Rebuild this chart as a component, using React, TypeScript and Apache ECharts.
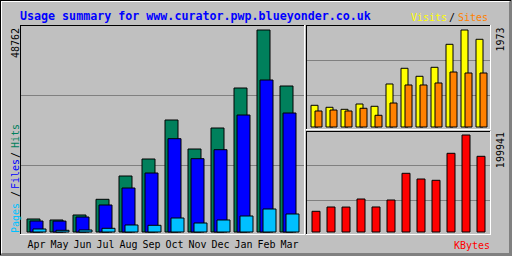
import React, { useEffect, useRef } from "react";
import * as echarts from "echarts";

const months = ["Apr", "May", "Jun", "Jul", "Aug", "Sep", "Oct", "Nov", "Dec", "Jan", "Feb", "Mar"];
const hits = [3363, 3123, 4324, 8095, 13691, 17775, 27143, 20177, 25221, 34829, 48762, 35309];
const files = [2882, 2860, 3843, 6726, 10809, 14412, 22651, 17847, 20009, 28344, 36751, 28824];
const pages = [961, 649, 721, 1129, 1922, 1850, 3603, 2402, 3123, 4083, 5765, 4564];
const visits = [457, 417, 376, 483, 437, 886, 1202, 1041, 1222, 1685, 1973, 1786];
const sites = [342, 362, 342, 397, 256, 503, 866, 866, 906, 1127, 1107, 1107];
const kbytes = [44273, 53045, 52900, 69367, 53100, 67327, 121800, 110171, 107519, 162606, 199941, 156484];

const titleText = "Usage summary for www.curator.pwp.blueyonder.co.uk";
const maxHitsLabel = "48762";
const maxVisitsLabel = "1973";
const maxKBytesLabel = "199941";

const BG = "#C0C0C0";
const DARK = "#808080";
const C_HITS = "#00805C";
const C_FILES = "#0000FF";
const C_PAGES = "#00C0FF";
const C_VISITS = "#FFFF00";
const C_SITES = "#FF8000";
const C_KBYTES = "#FF0000";
const MONO = '"DejaVu Sans Mono", monospace';

function hline(y: number, x1: number, x2: number, color: string, z = 0) {
  return { type: "line", z, silent: true, shape: { x1, y1: y + 0.5, x2: x2 + 1, y2: y + 0.5 }, style: { stroke: color, lineWidth: 1 } };
}
function vline(x: number, y1: number, y2: number, color: string, z = 0) {
  return { type: "line", z, silent: true, shape: { x1: x + 0.5, y1, x2: x + 0.5, y2: y2 + 1 }, style: { stroke: color, lineWidth: 1 } };
}
function frame(x1: number, y1: number, x2: number, y2: number) {
  return [hline(y1, x1, x2, "#000"), vline(x1, y1, y2, "#000"), hline(y2, x1, x2, "#fff"), vline(x2, y1, y2, "#fff")];
}
function txt(text: string, x: number, y: number, fill: string, opts: any = {}) {
  return {
    type: "text",
    z: 10,
    silent: true,
    x,
    y,
    rotation: opts.rotation || 0,
    style: {
      text,
      fill,
      font: opts.font || `10px ${MONO}`,
      align: opts.align || "left",
      verticalAlign: "middle",
    },
  };
}

export default function App() {
  const ref = useRef<HTMLDivElement>(null);
  useEffect(() => {
    if (!ref.current) return;
    const chart = echarts.init(ref.current, null, { renderer: "svg" });
    const up = Math.PI / 2;
    const graphics: any[] = [
      // outer border
      hline(0, 0, 511, "#000"),
      vline(0, 0, 255, "#000"),
      hline(1, 1, 508, "#fff"),
      vline(1, 1, 252, "#fff"),
      hline(253, 2, 511, DARK),
      hline(254, 1, 511, DARK),
      hline(255, 0, 511, DARK),
      vline(509, 2, 255, DARK),
      vline(510, 1, 255, DARK),
      vline(511, 0, 255, DARK),
      // frames
      ...frame(20, 25, 304, 234),
      ...frame(306, 25, 490, 129),
      ...frame(306, 131, 490, 234),
      // grid lines
      hline(95, 21, 303, DARK),
      hline(165, 21, 303, DARK),
      hline(60, 307, 489, DARK),
      hline(95, 307, 489, DARK),
      hline(165, 307, 489, DARK),
      hline(200, 307, 489, DARK),
      // texts
      txt(titleText, 20, 15.5, C_FILES, { font: `bold 11.67px ${MONO}` }),
      txt("Visits", 411, 17.3, C_VISITS),
      txt("/", 449, 17.3, "#000"),
      txt("Sites", 458, 17.3, C_SITES),
      txt("KBytes", 454, 245, C_KBYTES),
      txt(maxHitsLabel, 15.5, 28, "#000", { rotation: up, align: "right" }),
      txt(maxVisitsLabel, 500.5, 27.5, "#000", { rotation: up, align: "right" }),
      txt(maxKBytesLabel, 500.5, 132, "#000", { rotation: up, align: "right" }),
      txt("Pages", 15, 233, C_PAGES, { rotation: up }),
      txt("/", 15, 197, "#000", { rotation: up }),
      txt("Files", 15, 189, C_FILES, { rotation: up }),
      txt("/", 15, 158, "#000", { rotation: up }),
      txt("Hits", 15, 148, C_HITS, { rotation: up }),
    ];

    const hiddenY = (gridIndex: number, max: number) => ({
      type: "value",
      gridIndex,
      min: 0,
      max,
      show: false,
      splitLine: { show: false },
    });
    const catX = (gridIndex: number, showLabels: boolean) => ({
      type: "category",
      gridIndex,
      data: months,
      axisLine: { show: false },
      axisTick: { show: false },
      splitLine: { show: false },
      axisLabel: showLabels
        ? { show: true, color: "#000", fontFamily: MONO, fontSize: 10, margin: 7, interval: 0 }
        : { show: false },
    });
    const barBase = { type: "bar", itemStyle: { borderColor: "#000", borderWidth: 1 }, silent: true };

    chart.setOption({
      animation: false,
      backgroundColor: BG,
      grid: [
        { left: 25, top: 29.5, width: 276, height: 203 },
        { left: 309, top: 29.5, width: 180, height: 98 },
        { left: 308.5, top: 134.5, width: 180, height: 98 },
      ],
      xAxis: [catX(0, true), catX(1, false), catX(2, false)],
      yAxis: [hiddenY(0, hits.reduce((a, b) => Math.max(a, b), 0)), hiddenY(1, visits.reduce((a, b) => Math.max(a, b), 0)), hiddenY(2, kbytes.reduce((a, b) => Math.max(a, b), 0))],
      series: [
        { ...barBase, name: "Hits", xAxisIndex: 0, yAxisIndex: 0, data: hits, barWidth: 14, barGap: "-78.5714%", itemStyle: { ...barBase.itemStyle, color: C_HITS } },
        { ...barBase, name: "Files", xAxisIndex: 0, yAxisIndex: 0, data: files, barWidth: 14, barGap: "-78.5714%", itemStyle: { ...barBase.itemStyle, color: C_FILES } },
        { ...barBase, name: "Pages", xAxisIndex: 0, yAxisIndex: 0, data: pages, barWidth: 14, barGap: "-78.5714%", itemStyle: { ...barBase.itemStyle, color: C_PAGES } },
        { ...barBase, name: "Visits", xAxisIndex: 1, yAxisIndex: 1, data: visits, barWidth: 8, barGap: "-50%", itemStyle: { ...barBase.itemStyle, color: C_VISITS } },
        { ...barBase, name: "Sites", xAxisIndex: 1, yAxisIndex: 1, data: sites, barWidth: 8, barGap: "-50%", itemStyle: { ...barBase.itemStyle, color: C_SITES } },
        { ...barBase, name: "KBytes", xAxisIndex: 2, yAxisIndex: 2, data: kbytes, barWidth: 9, itemStyle: { ...barBase.itemStyle, color: C_KBYTES } },
      ],
      graphic: { elements: graphics },
    });
    return () => chart.dispose();
  }, []);
  return <div ref={ref} style={{ position: "fixed", left: 0, top: 0, width: 512, height: 256 }} />;
}
